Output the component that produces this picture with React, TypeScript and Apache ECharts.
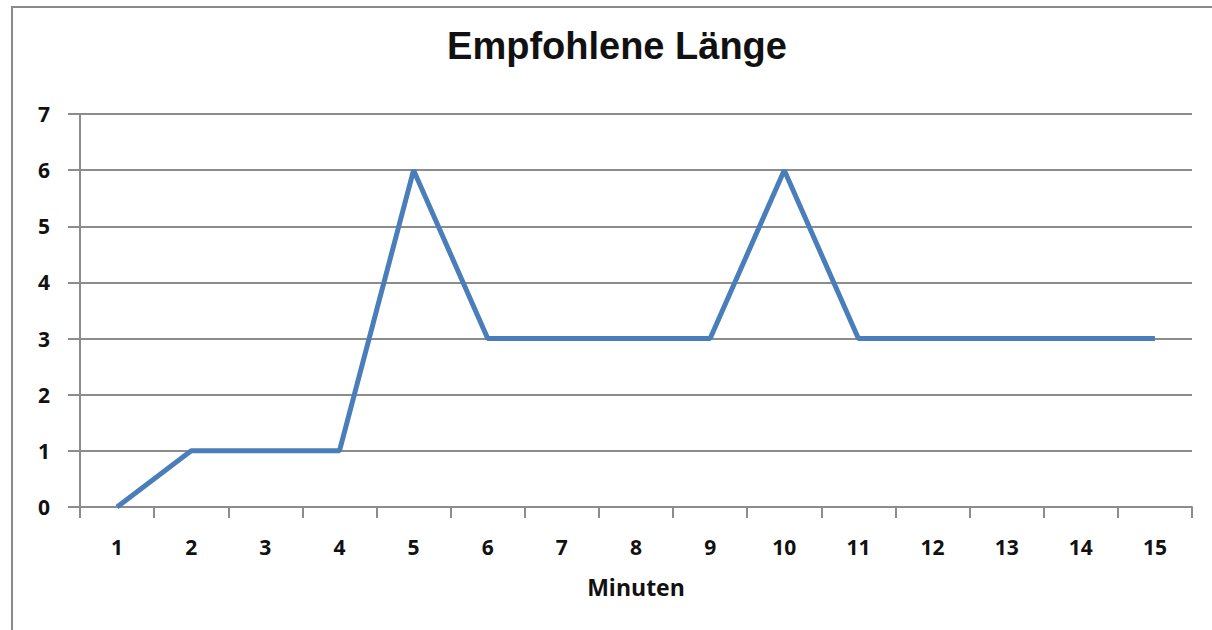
import React, { useEffect, useRef } from "react";
import * as echarts from "echarts";

const categories = ["1", "2", "3", "4", "5", "6", "7", "8", "9", "10", "11", "12", "13", "14", "15"];
const values = [0, 1, 1, 1, 6, 3, 3, 3, 3, 6, 3, 3, 3, 3, 3];
const titleText = "Empfohlene Länge";
const xAxisName = "Minuten";

export default function App() {
  const ref = useRef<HTMLDivElement>(null);
  useEffect(() => {
    const chart = echarts.init(ref.current!, null, { renderer: "svg" });
    const gray = "#8c8c8c";
    const labelFont = {
      fontFamily: "Open Sans",
      fontWeight: "bold",
      fontSize: 21,
      color: "#111111",
    };
    chart.setOption({
      animation: false,
      backgroundColor: "#ffffff",
      title: {
        text: titleText,
        left: 617,
        top: 27,
        textAlign: "center",
        padding: 0,
        textStyle: {
          fontFamily: "Liberation Sans",
          fontWeight: "bold",
          fontSize: 38,
          color: "#111111",
        },
      },
      graphic: [
        {
          type: "rect",
          shape: { x: 12, y: 7, width: 1230, height: 650 },
          style: { fill: "none", stroke: "#8a8a8a", lineWidth: 2 },
          silent: true,
        },
      ],
      grid: { left: 80, right: 20, top: 114, bottom: 123 },
      xAxis: {
        type: "category",
        data: categories,
        boundaryGap: true,
        name: xAxisName,
        nameLocation: "middle",
        nameGap: 68,
        nameTextStyle: { ...labelFont, fontSize: 23 },
        axisLine: { show: true, lineStyle: { color: gray, width: 2 } },
        axisTick: { show: true, alignWithLabel: false, length: 11, lineStyle: { color: gray, width: 2 } },
        axisLabel: { ...labelFont, margin: 29 },
        splitLine: { show: false },
      },
      yAxis: {
        type: "value",
        min: 0,
        max: 7,
        interval: 1,
        axisLine: { show: true, lineStyle: { color: gray, width: 2 } },
        axisTick: { show: true, length: 12, lineStyle: { color: gray, width: 2 } },
        axisLabel: { ...labelFont, margin: 30 },
        splitLine: { show: true, lineStyle: { color: gray, width: 2 } },
      },
      series: [
        {
          type: "line",
          data: values,
          symbol: "none",
          lineStyle: { color: "#4a7ebb", width: 5 },
        },
      ],
    });
    return () => chart.dispose();
  }, []);
  return (
    <div
      ref={ref}
      style={{ position: "fixed", left: 0, top: 0, width: 1212, height: 630 }}
    />
  );
}
